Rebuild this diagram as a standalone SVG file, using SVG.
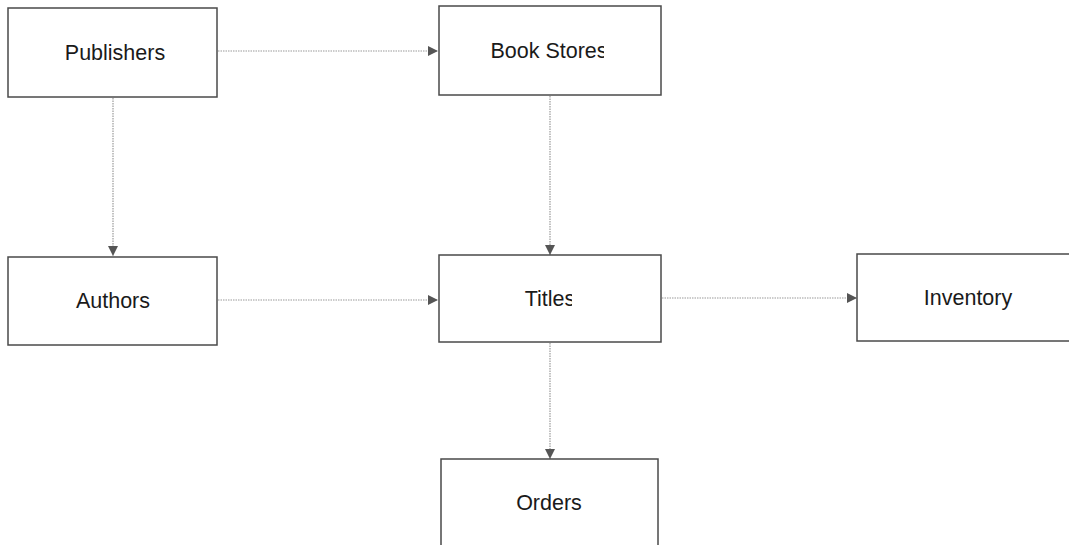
<svg xmlns="http://www.w3.org/2000/svg" width="1069" height="545" viewBox="0 0 1069 545">
  <style>
    .box { fill: #ffffff; stroke: #4a4a4a; stroke-width: 1.5; }
    .label { font-family: "Liberation Sans", Arial, sans-serif; font-size: 21.5px; fill: #1a1a1a; text-anchor: middle; }
    .link { fill: none; stroke: #9a9a9a; stroke-width: 1.2; stroke-dasharray: 1.5 1; marker-end: url(#arrow); }
  </style>
  <defs>
    <marker id="arrow" viewBox="0 0 10 10" refX="10" refY="5" markerWidth="10" markerHeight="10" markerUnits="userSpaceOnUse" orient="auto">
      <path d="M0,0 L10,5 L0,10 z" fill="#555555"/>
    </marker>
    <!-- the last glyph of these two labels is cut off by the label area -->
    <clipPath id="clipBookStores"><rect x="430" y="0" width="174" height="100"/></clipPath>
    <clipPath id="clipTitles"><rect x="430" y="250" width="142" height="100"/></clipPath>
  </defs>
  <rect width="1069" height="545" fill="#ffffff"/>

  <g id="connectors">
    <line class="link" x1="218" y1="51" x2="438" y2="51"/>
    <line class="link" x1="113" y1="98" x2="113" y2="256"/>
    <line class="link" x1="550" y1="96" x2="550" y2="255"/>
    <line class="link" x1="218" y1="300" x2="438" y2="300"/>
    <line class="link" x1="662" y1="298" x2="857" y2="298"/>
    <line class="link" x1="550" y1="343" x2="550" y2="459"/>
  </g>

  <g id="publishers">
    <rect class="box" x="8" y="8" width="209" height="89"/>
    <text class="label" x="115" y="60">Publishers</text>
  </g>
  <g id="book-stores">
    <rect class="box" x="439" y="6" width="222" height="89"/>
    <text class="label" x="549" y="58" clip-path="url(#clipBookStores)">Book Stores</text>
  </g>
  <g id="authors">
    <rect class="box" x="8" y="257" width="209" height="88"/>
    <text class="label" x="113" y="308">Authors</text>
  </g>
  <g id="titles">
    <rect class="box" x="439" y="255" width="222" height="87"/>
    <text class="label" x="550" y="306" clip-path="url(#clipTitles)">Titles</text>
  </g>
  <g id="inventory">
    <rect class="box" x="857" y="254" width="220" height="87"/>
    <text class="label" x="968" y="305">Inventory</text>
  </g>
  <g id="orders">
    <rect class="box" x="441" y="459" width="217" height="100"/>
    <text class="label" x="549" y="510">Orders</text>
  </g>
</svg>
